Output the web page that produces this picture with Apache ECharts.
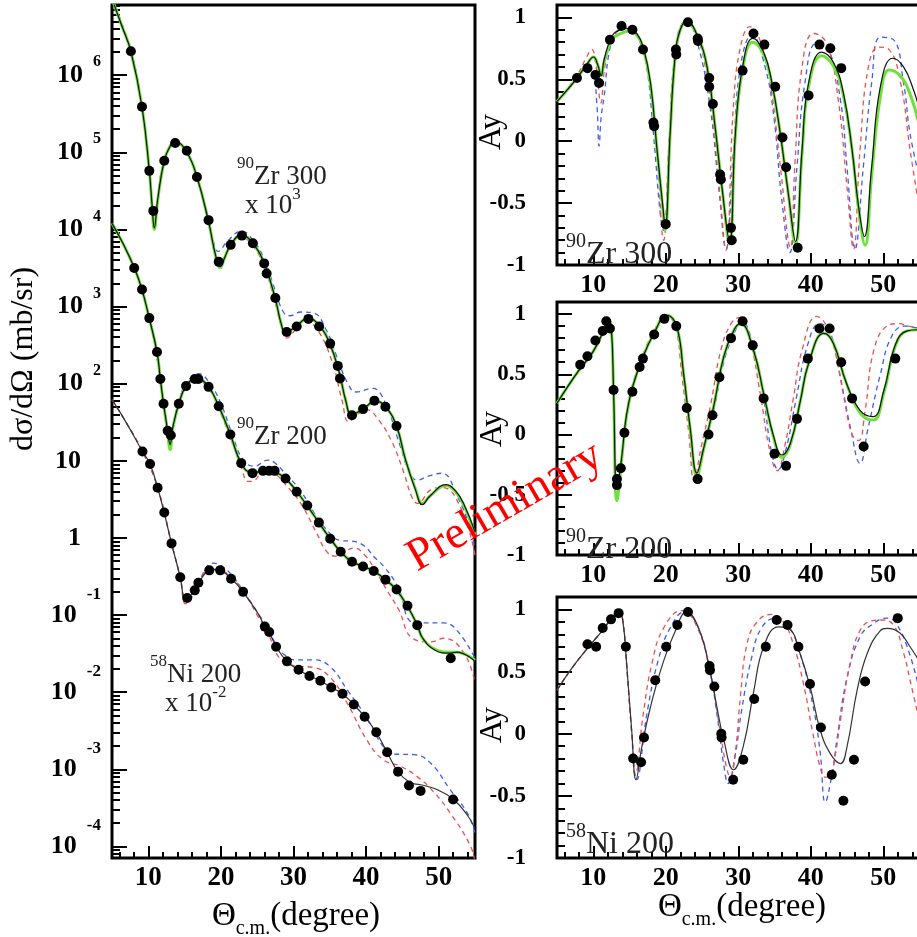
<!DOCTYPE html>
<html><head><meta charset="utf-8">
<script src="https://cdn.jsdelivr.net/npm/echarts@6/dist/echarts.min.js"></script>
<style>html,body{margin:0;padding:0;background:#fff}#c{width:917px;height:937px}</style>
</head><body><div id="c"></div>
<script>
// ---------- tick labels ----------
const xMajor = [10, 20, 30, 40, 50];
const xMinor = [6, 8, 12, 14, 16, 18, 22, 24, 26, 28, 32, 34, 36, 38, 42, 44, 46, 48, 52, 54];
const yMajorL = [-4, -3, -2, -1, 0, 1, 2, 3, 4, 5, 6]; // log10 exponents
const ayMajor = [-1, -0.5, 0, 0.5, 1];
const ayMinor = [-0.9, -0.8, -0.7, -0.6, -0.4, -0.3, -0.2, -0.1, 0.1, 0.2, 0.3, 0.4, 0.6, 0.7, 0.8, 0.9];

// ---------- cross sections (mb/sr), [theta, value] ----------
const zr300Pts = [[7.6,2.04e6],[9.13,3.89e5],[10.14,5.75e4],[10.69,1.74e4],[12.2,7.76e4],[13.7,1.32e5],[15.3,1.05e5],[16.7,4.79e4],[18.3,1.32e4],[19.7,3.8e3],[21.35,6.31e3],[22.9,8.32e3],[24.4,6.61e3],[25.96,3.63e3],[26.3,2.69e3],[27.5,1.29e3],[29.06,468],[30.44,550],[32.05,692],[33.53,550],[35.05,331],[36.1,170],[36.4,117],[38.06,38.9],[39.58,46.8],[41.14,60.3],[42.66,50.1],[44.19,28.2]];
const zr300Black = [[5,9.8e6],[6.3,4.5e6],[7.6,2.04e6],[9.13,3.9e5],[10.14,5.8e4],[10.5,2.2e4],[10.83,1.05e4],[11.3,2.5e4],[12.2,7.8e4],[13.0,1.2e5],[13.7,1.38e5],[15.3,1.0e5],[16.7,4.8e4],[18.3,1.26e4],[19.3,4.5e3],[19.9,3.3e3],[20.6,4.5e3],[21.35,6.3e3],[22.8,8.5e3],[24.4,6.6e3],[26.0,3.55e3],[27.5,1.26e3],[28.3,600],[28.9,460],[30.4,560],[32.0,710],[33.5,575],[35.0,330],[36.3,140],[37.2,60],[38.0,40],[39.6,47],[41.3,60],[42.7,50],[44.2,28],[45.4,10.5],[46.8,4.2],[47.75,2.7],[48.8,3.5],[51.0,4.9],[52.3,4.1],[53.5,2.7],[55,1.2]];
const zr300Green = [[5,9.8e6],[6.3,4.5e6],[7.6,2.04e6],[9.13,3.9e5],[10.14,5.8e4],[10.5,2.1e4],[10.83,1.0e4],[11.3,2.4e4],[12.2,7.8e4],[13.0,1.2e5],[13.7,1.36e5],[15.3,1.0e5],[16.7,4.8e4],[18.3,1.26e4],[19.3,4.4e3],[19.9,3.2e3],[20.6,4.5e3],[21.35,6.3e3],[22.8,8.4e3],[24.4,6.6e3],[26.0,3.55e3],[27.5,1.26e3],[28.3,600],[28.9,455],[30.4,560],[32.0,700],[33.5,575],[35.0,330],[36.3,140],[37.2,60],[38.0,40],[39.6,47],[41.3,59],[42.7,50],[44.2,28],[45.4,10.5],[46.8,4.3],[47.75,2.8],[48.8,3.5],[51.0,4.8],[52.3,4.0],[53.5,2.6],[55,1.1]];
const zr300Blue = [[5,9.8e6],[7.6,2.04e6],[9.13,3.9e5],[10.14,5.8e4],[10.5,2.3e4],[10.83,1.1e4],[11.3,2.6e4],[12.2,7.8e4],[13.7,1.38e5],[15.3,1.02e5],[16.7,4.9e4],[18.3,1.35e4],[19.0,6.8e3],[19.6,5.2e3],[21.0,7.2e3],[22.8,9.5e3],[24.5,7.1e3],[26.0,4.0e3],[27.6,1.5e3],[28.6,850],[29.5,760],[31.0,850],[32.7,830],[34.5,500],[36.0,220],[37.5,100],[38.6,78],[40.9,87],[42.5,60],[44.7,15.5],[46.0,7.0],[47.05,5.6],[48.5,6.3],[50.4,6.9],[52.6,3.4],[54.4,1.26],[55,0.71]];
const zr300Red = [[5,9.8e6],[7.6,2.04e6],[9.13,3.9e5],[10.14,5.8e4],[10.5,2.2e4],[10.83,1.0e4],[11.3,2.5e4],[12.2,7.8e4],[13.7,1.38e5],[15.3,1.0e5],[16.7,4.7e4],[18.3,1.2e4],[19.3,4.2e3],[19.9,3.1e3],[20.6,4.3e3],[21.35,6.0e3],[22.6,8.1e3],[24.3,6.3e3],[26.0,3.2e3],[27.5,1.1e3],[28.4,520],[29.06,390],[30.3,500],[31.6,650],[33.3,500],[35.3,195],[36.7,60],[37.6,32],[38.8,40],[40.1,46],[41.7,34],[43.5,18],[45.2,7],[46.3,3.4],[47.1,2.8],[48.9,4.2],[50.5,4.5],[53.0,2.5],[55,0.6]];

const zr200Pts = [[8.06,3.16e3],[9.13,1.66e3],[10.14,708],[11.2,257],[11.66,115],[12.1,55],[12.67,24.5],[13.1,21.4],[14.2,55],[15.2,93],[16.4,115],[16.9,115],[18.3,91],[19.7,51],[21.3,21.9],[22.8,9.33],[24.35,6.92],[25.8,7.41],[26.65,7.41],[27.4,7.41],[28.9,5.89],[30.44,3.98],[31.9,2.63],[33.5,1.58],[35.05,0.977],[36.5,0.661],[38.06,0.49],[39.58,0.427],[41.05,0.372],[42.67,0.288],[44.2,0.214],[45.7,0.132],[47.05,0.074],[51.66,0.0275]];
const zr200Black = [[5,1.2e4],[6.5,6.6e3],[8.06,3.2e3],[9.13,1.66e3],[10.14,700],[11.2,257],[11.66,115],[12.1,55],[12.67,24.5],[13.0,16.2],[13.4,28],[14.2,55],[15.2,93],[16.6,117],[18.3,91],[19.7,51],[21.3,22],[22.8,9.3],[24.3,7.0],[25.8,7.4],[26.9,7.6],[27.7,7.0],[28.9,5.9],[30.44,4.0],[31.9,2.6],[33.5,1.58],[35.05,0.98],[36.5,0.66],[38.06,0.49],[39.58,0.43],[41.05,0.37],[42.67,0.29],[44.2,0.21],[45.7,0.13],[47.05,0.074],[47.8,0.05],[49.5,0.035],[51.5,0.032],[52.5,0.033],[55,0.025]];
const zr200Green = [[5,1.2e4],[6.5,6.6e3],[8.06,3.2e3],[9.13,1.66e3],[10.14,700],[11.2,257],[11.66,115],[12.1,55],[12.67,23],[13.0,14],[13.4,27],[14.2,55],[15.2,93],[16.6,117],[18.3,91],[19.7,51],[21.3,22],[22.8,9.3],[24.3,7.0],[25.8,7.4],[26.9,7.6],[27.7,7.0],[28.9,5.9],[30.44,4.0],[31.9,2.6],[33.5,1.58],[35.05,0.98],[36.5,0.66],[38.06,0.49],[39.58,0.43],[41.05,0.37],[42.67,0.29],[44.2,0.21],[45.7,0.13],[47.05,0.074],[47.8,0.05],[49.5,0.036],[51.5,0.033],[52.5,0.033],[55,0.026]];
const zr200Blue = [[5,1.2e4],[8.06,3.2e3],[10.14,700],[11.66,115],[12.67,25],[13.0,17],[13.4,29],[14.2,58],[15.2,100],[16.9,135],[18.5,100],[20.0,55],[21.5,23],[23.0,10.5],[24.6,8.5],[26.5,10.2],[27.5,9.3],[29.0,6.6],[30.9,4.2],[33.0,2.0],[35.0,1.15],[36.4,0.93],[38.3,0.9],[39.8,0.78],[41.0,0.58],[42.4,0.43],[44.2,0.25],[45.0,0.16],[45.8,0.089],[47.0,0.079],[50.7,0.079],[52.6,0.062],[55,0.0275]];
const zr200Red = [[5,1.2e4],[8.06,3.2e3],[10.14,700],[11.66,115],[12.67,23],[13.0,15.5],[13.4,27],[14.2,53],[15.2,90],[16.5,112],[18.3,86],[19.7,47],[21.3,20],[22.8,8.3],[23.75,5.4],[24.5,5.5],[26.0,7.6],[27.3,7.0],[29.0,4.8],[31.0,2.8],[33.2,1.15],[34.5,0.68],[35.7,0.58],[37.0,0.66],[38.3,0.74],[39.8,0.6],[41.5,0.35],[43.0,0.2],[44.5,0.117],[46.4,0.05],[48.9,0.045],[50.7,0.05],[53.5,0.032],[55,0.013]];

const niPts = [[9.2,13.2],[10.24,9.1],[11.28,4.47],[12.2,2.14],[13.2,0.85],[14.4,0.31],[15.36,0.166],[16.4,0.209],[16.9,0.263],[18.4,0.38],[19.9,0.38],[21.4,0.295],[23.05,0.2],[26.05,0.0708],[26.65,0.0603],[27.6,0.0389],[29.1,0.0251],[30.7,0.0195],[32.2,0.0162],[33.7,0.0141],[35.2,0.0115],[36.75,0.00955],[38.3,0.00692],[39.8,0.00479],[41.4,0.00302],[42.9,0.00166],[44.4,0.000933],[45.9,0.000617],[47.5,0.000525],[51.98,0.000407]];
const niBlack = [[5,62],[6.9,32],[9.2,13.2],[10.24,9.1],[11.28,4.5],[12.2,2.1],[13.2,0.85],[14.4,0.31],[15.1,0.16],[15.6,0.17],[16.4,0.21],[16.9,0.26],[18.4,0.38],[19.2,0.39],[19.9,0.38],[21.4,0.3],[23.05,0.2],[25.1,0.105],[26.05,0.071],[26.65,0.06],[27.6,0.039],[29.1,0.025],[30.7,0.0195],[32.2,0.0162],[33.7,0.0141],[35.2,0.0115],[36.75,0.0095],[38.3,0.0069],[39.8,0.0048],[41.4,0.003],[42.9,0.00166],[44.4,0.00093],[46.0,0.00068],[47.5,0.00063],[49.5,0.00056],[52.0,0.00041],[54.0,0.00025],[55,0.00017]];
const niBlue = [[5,62],[6.9,32],[9.2,13.2],[11.28,4.5],[13.2,0.85],[14.4,0.31],[15.1,0.16],[15.6,0.17],[16.9,0.27],[18.9,0.47],[20.0,0.44],[21.5,0.33],[23.0,0.21],[25.0,0.11],[26.5,0.065],[28.0,0.036],[29.3,0.028],[30.0,0.0263],[32.7,0.0263],[35.05,0.0214],[37.4,0.0107],[40.0,0.0048],[42.4,0.00195],[43.8,0.00158],[46.6,0.00155],[48.9,0.0012],[51.6,0.00054],[53.95,0.00027],[55,0.000148]];
const niRed = [[5,62],[6.9,32],[9.2,13.2],[11.28,4.5],[13.2,0.85],[14.4,0.3],[15.1,0.14],[15.6,0.15],[16.4,0.2],[17.5,0.33],[19.0,0.42],[21.4,0.31],[23.0,0.21],[25.0,0.1],[26.5,0.058],[28.1,0.0275],[30.3,0.0219],[32.8,0.0209],[35.0,0.0158],[37.4,0.0072],[40.1,0.0024],[42.4,0.00132],[44.7,0.0011],[47.0,0.00081],[49.3,0.00051],[51.6,0.00027],[54.4,0.0001],[55,0.00006]];

// ---------- analysing powers, [theta, Ay] ----------
const ay300Pts = [[7.75,0.51],[9.2,0.59],[10.3,0.535],[10.8,0.47],[12.3,0.82],[13.9,0.93],[15.4,0.9],[16.86,0.74],[18.3,0.15],[18.4,0.12],[20.0,-0.67],[21.4,0.74],[21.45,0.7],[23.06,0.96],[24.4,0.83],[24.45,0.81],[26.0,0.51],[26.0,0.44],[26.5,0.3],[27.5,-0.27],[27.6,-0.31],[29.0,-0.7],[29.1,-0.8],[30.6,0.57],[32.1,0.87],[33.6,0.78],[35.1,0.44],[36.1,0.03],[36.6,-0.21],[38.2,-0.86],[39.7,0.37],[41.2,0.78],[42.7,0.75],[44.2,0.59]];
const ay300Black = [[5,0.32],[6.5,0.42],[7.75,0.51],[9.0,0.61],[10.05,0.68],[10.6,0.62],[11.1,0.53],[11.5,0.66],[12.6,0.85],[13.8,0.9],[15.0,0.91],[16.0,0.87],[16.9,0.76],[17.9,0.47],[18.8,-0.07],[19.6,-0.53],[19.93,-0.69],[20.6,0.06],[21.3,0.69],[22.0,0.9],[22.9,0.97],[24.3,0.86],[25.7,0.6],[26.8,0.12],[27.75,-0.37],[28.8,-0.81],[29.6,0.06],[30.6,0.6],[32.0,0.83],[33.5,0.72],[34.65,0.47],[35.8,0.06],[36.9,-0.42],[37.9,-0.81],[38.8,-0.07],[39.7,0.47],[41.5,0.72],[43.1,0.64],[44.5,0.39],[45.7,-0.07],[46.6,-0.53],[47.4,-0.77],[48.4,-0.21],[49.6,0.44],[51.3,0.67],[52.8,0.6],[54.2,0.41],[55,0.25]];
const ay300Green = [[5,0.32],[6.5,0.42],[7.75,0.51],[9.0,0.61],[10.05,0.68],[10.6,0.62],[11.1,0.53],[11.5,0.64],[12.6,0.82],[13.8,0.87],[15.0,0.89],[16.0,0.86],[16.9,0.75],[17.9,0.46],[18.8,-0.07],[19.6,-0.55],[19.93,-0.72],[20.6,0.05],[21.3,0.68],[22.0,0.9],[22.9,0.96],[24.3,0.86],[25.7,0.6],[26.8,0.12],[27.75,-0.37],[28.8,-0.83],[29.6,0.04],[30.6,0.58],[32.0,0.8],[33.5,0.7],[34.65,0.46],[35.8,0.06],[36.9,-0.42],[37.9,-0.83],[38.8,-0.1],[39.7,0.44],[41.5,0.69],[43.1,0.61],[44.5,0.37],[45.7,-0.07],[46.6,-0.55],[47.5,-0.84],[48.4,-0.28],[49.6,0.36],[50.8,0.575],[52.3,0.53],[53.7,0.38],[55,0.12]];
const ay300Blue = [[5,0.32],[7.75,0.5],[9.3,0.6],[10.0,0.55],[10.5,0.3],[10.8,-0.04],[11.1,0.2],[11.5,0.36],[12.3,0.75],[13.4,0.9],[14.65,0.93],[16.0,0.85],[17.2,0.66],[18.3,0.06],[19.25,-0.59],[19.7,-0.72],[20.6,0.11],[21.7,0.87],[22.9,0.97],[24.3,0.81],[26.1,0.28],[27.3,-0.37],[28.3,-0.87],[29.35,-0.07],[30.3,0.6],[31.9,0.86],[33.7,0.6],[34.9,0.2],[36.0,-0.47],[37.1,-0.9],[38.1,-0.21],[39.2,0.47],[40.8,0.79],[42.4,0.75],[44.1,0.33],[45.0,-0.21],[46.1,-0.87],[47.25,-0.21],[48.4,0.47],[49.6,0.84],[51.4,0.82],[52.8,0.47],[53.7,0.06],[55,-0.3]];
const ay300Red = [[5,0.32],[7.75,0.53],[9.0,0.67],[9.8,0.74],[10.4,0.6],[11.05,0.31],[11.6,0.6],[12.6,0.82],[14.5,0.92],[16.0,0.86],[16.9,0.75],[17.9,0.45],[18.8,-0.1],[19.7,-0.8],[20.5,0.05],[21.3,0.7],[22.8,0.97],[24.3,0.85],[25.6,0.55],[26.7,0.05],[27.5,-0.45],[28.3,-0.88],[29.35,0.3],[30.3,0.76],[31.6,0.925],[33.5,0.73],[34.6,0.4],[35.8,-0.2],[37.2,-0.86],[37.8,-0.2],[38.8,0.6],[40.4,0.87],[42.2,0.79],[43.8,0.33],[45.0,-0.37],[45.9,-0.87],[46.8,-0.07],[47.95,0.6],[49.4,0.76],[50.8,0.74],[52.4,0.47],[53.7,-0.07],[55,-0.55]];

const ay200Pts = [[8.2,0.58],[9.2,0.65],[10.3,0.78],[11.3,0.86],[11.8,0.94],[12.3,0.88],[12.8,0.37],[13.27,-0.37],[13.27,-0.42],[13.8,-0.28],[14.3,0.015],[15.4,0.355],[16.4,0.56],[16.85,0.63],[18.4,0.83],[19.8,0.96],[21.45,0.9],[22.9,0.22],[24.4,-0.37],[25.9,0.0],[26.45,0.16],[27.4,0.475],[29.0,0.8],[30.6,0.94],[32.0,0.74],[33.5,0.3],[35.0,-0.16],[36.6,-0.26],[38.1,0.13],[39.6,0.63],[41.2,0.88],[42.6,0.88],[44.2,0.6],[45.7,0.3],[47.3,-0.1],[51.66,0.63]];
const ay200Black = [[5,0.26],[6.5,0.4],[8,0.53],[10,0.69],[11.5,0.87],[12.1,0.95],[12.5,0.88],[12.8,0.37],[13.27,-0.45],[13.9,-0.2],[14.6,0.17],[15.5,0.41],[16.9,0.65],[18.3,0.83],[20.16,0.99],[21.5,0.9],[22.45,0.51],[23.4,0.04],[24.3,-0.32],[25.2,-0.12],[26.6,0.23],[28.0,0.646],[29.35,0.86],[30.3,0.923],[32.1,0.7],[33.5,0.34],[34.9,-0.02],[36.0,-0.17],[37.2,-0.07],[38.6,0.29],[39.7,0.59],[41.8,0.84],[43.1,0.76],[44.9,0.43],[46.8,0.2],[48.6,0.148],[50.1,0.37],[51.7,0.75],[53.3,0.86],[55,0.87]];
const ay200Green = [[5,0.26],[6.5,0.4],[8,0.53],[10,0.69],[11.5,0.87],[12.1,0.95],[12.5,0.88],[12.8,0.35],[13.27,-0.55],[13.9,-0.22],[14.6,0.16],[15.5,0.41],[16.9,0.65],[18.3,0.83],[20.16,0.99],[21.5,0.9],[22.45,0.51],[23.4,0.03],[24.3,-0.34],[25.2,-0.13],[26.6,0.23],[28.0,0.646],[29.35,0.86],[30.3,0.92],[32.1,0.7],[33.5,0.34],[34.9,-0.03],[36.0,-0.19],[37.2,-0.08],[38.6,0.29],[39.7,0.59],[41.8,0.84],[43.1,0.76],[44.9,0.43],[46.8,0.18],[48.6,0.12],[50.1,0.35],[51.7,0.74],[53.3,0.86],[55,0.87]];
const ay200Blue = [[5,0.26],[8,0.53],[10,0.69],[11.5,0.87],[12.1,0.95],[12.5,0.88],[12.8,0.37],[13.27,-0.45],[13.9,-0.2],[14.6,0.17],[15.5,0.42],[16.9,0.66],[18.3,0.84],[20.16,0.99],[21.5,0.9],[22.45,0.5],[23.4,0.0],[24.3,-0.33],[25.2,-0.1],[26.6,0.2],[28.0,0.6],[29.5,0.85],[30.5,0.94],[32.1,0.72],[33.5,0.3],[34.6,-0.15],[35.5,-0.29],[36.6,-0.12],[38.0,0.3],[39.6,0.75],[41.2,0.92],[42.6,0.86],[44.0,0.5],[45.5,0.05],[46.8,-0.24],[47.9,0.05],[49.6,0.5],[51.2,0.82],[53.0,0.9],[55,0.88]];
const ay200Red = [[5,0.26],[8,0.53],[10,0.69],[11.5,0.87],[12.1,0.95],[12.5,0.88],[12.8,0.37],[13.27,-0.45],[13.9,-0.2],[14.6,0.18],[15.5,0.43],[16.9,0.67],[18.3,0.85],[20.0,0.99],[21.3,0.9],[22.2,0.5],[23.2,0.0],[23.9,-0.38],[24.9,-0.1],[26.2,0.25],[27.6,0.7],[29.0,0.92],[30.1,0.97],[31.6,0.78],[33.0,0.35],[34.4,-0.15],[35.4,-0.3],[36.4,-0.1],[37.6,0.3],[38.8,0.7],[40.8,0.98],[42.2,0.9],[43.5,0.65],[44.6,0.3],[45.7,0.0],[46.6,-0.05],[47.5,0.2],[48.7,0.7],[50.5,0.9],[52.1,0.92],[53.5,0.9],[55,0.88]];

const ayNiPts = [[9.2,0.72],[10.4,0.7],[11.3,0.85],[12.45,0.92],[13.5,0.97],[14.5,0.7],[15.5,-0.2],[16.6,-0.23],[17.0,-0.03],[18.55,0.43],[20.07,0.7],[21.6,0.875],[23.06,0.98],[26.04,0.545],[26.1,0.51],[26.7,0.38],[27.66,0.0],[27.7,-0.03],[29.3,-0.37],[30.7,-0.21],[32.2,0.28],[33.8,0.7],[35.3,0.915],[36.8,0.875],[38.3,0.7],[39.9,0.4],[41.4,0.05],[42.9,-0.33],[44.5,-0.54],[45.96,-0.21],[47.5,0.42],[52.0,0.93]];
const ayNiBlack = [[5,0.35],[6.83,0.51],[9.1,0.68],[11.4,0.84],[12.7,0.94],[13.6,0.98],[14.1,0.9],[14.6,0.566],[15.3,0.03],[15.9,-0.37],[16.7,-0.105],[17.9,0.217],[19.6,0.566],[21.2,0.81],[22.9,0.98],[24.6,0.84],[26.1,0.51],[27.05,0.217],[28.0,-0.05],[29.35,-0.29],[30.7,-0.1],[32.1,0.33],[33.5,0.7],[35.55,0.86],[37.1,0.84],[38.5,0.65],[39.9,0.38],[41.3,0.03],[42.7,-0.16],[44.1,-0.24],[45.0,-0.105],[46.4,0.35],[47.8,0.647],[49.6,0.83],[50.5,0.847],[52.3,0.81],[53.7,0.7],[55,0.58]];
const ayNiBlue = [[5,0.35],[6.83,0.51],[9.1,0.68],[11.4,0.84],[12.7,0.94],[13.6,0.98],[14.1,0.9],[14.6,0.56],[15.3,0.02],[16.0,-0.37],[17.4,0.16],[19.0,0.6],[20.6,0.85],[22.6,0.98],[24.5,0.85],[26.1,0.5],[27.2,0.1],[28.0,-0.25],[28.6,-0.4],[29.5,-0.2],[30.5,0.2],[31.8,0.6],[33.2,0.85],[35.2,0.93],[36.8,0.88],[38.5,0.65],[40.3,0.23],[41.3,-0.15],[42.0,-0.55],[43.0,-0.3],[43.6,-0.05],[45.0,0.45],[46.8,0.78],[48.5,0.88],[50.5,0.93],[51.6,0.9],[53.3,0.7],[55,0.35]];
const ayNiRed = [[5,0.35],[6.83,0.51],[9.1,0.68],[11.4,0.84],[12.7,0.94],[13.6,0.98],[14.1,0.9],[14.6,0.55],[15.3,0.0],[15.8,-0.33],[16.9,0.16],[18.1,0.566],[19.7,0.85],[22.2,0.99],[24.3,0.86],[26.1,0.5],[27.3,0.1],[28.3,-0.25],[28.9,-0.35],[29.6,-0.15],[30.3,0.3],[31.2,0.72],[32.6,0.9],[34.6,0.96],[36.2,0.9],[37.6,0.72],[39.0,0.4],[40.3,0.0],[41.3,-0.27],[42.0,-0.35],[42.7,-0.34],[43.3,-0.2],[44.1,0.11],[45.45,0.57],[46.8,0.83],[48.5,0.91],[49.6,0.915],[51.4,0.875],[52.8,0.65],[53.7,0.43],[55,0.1]];

// ---------- chart ----------
const F = "'Liberation Serif', 'Times New Roman', serif";
const BLACK = '#111', GREEN = '#6ee03a', BLUE = '#3d5cf0', RED = '#ea5050';
const toLog = arr => arr.map(p => [p[0], Math.log10(p[1])]);

const yMinorL = [];
for (let n = -5; n <= 6; n++) for (let k = 2; k <= 9; k++) {
  const v = n + Math.log10(k);
  if (v > -4.15 && v < 6.91) yMinorL.push(v);
}

const grids = [
  {left: 112, top: 5, width: 363, height: 853},
  {left: 557, top: 5, width: 362.5, height: 260},
  {left: 557, top: 302, width: 362.5, height: 253},
  {left: 557, top: 597, width: 362.5, height: 261}
].map(g => Object.assign({show: true, borderColor: '#000', borderWidth: 3, backgroundColor: 'transparent', containLabel: false, outerBoundsMode: 'none'}, g));

const tickStyle = {color: '#000', width: 2};
const noLine = {show: false, onZero: false};
const xAxes = [], yAxes = [];
grids.forEach((g, i) => {
  xAxes.push({gridIndex: i, type: 'value', min: 5, max: 55, position: 'bottom',
    axisLine: noLine, splitLine: {show: false},
    axisTick: {inside: true, length: 12, customValues: xMajor, lineStyle: tickStyle},
    axisLabel: {customValues: xMajor, fontFamily: F, fontWeight: 'bold', fontSize: i === 0 ? 27 : 26, color: '#000', margin: 7}});
  xAxes.push({gridIndex: i, type: 'value', min: 5, max: 55, position: 'bottom',
    axisLine: noLine, splitLine: {show: false}, axisLabel: {show: false},
    axisTick: {inside: true, length: 6, customValues: xMinor, lineStyle: tickStyle}});
  if (i === 0) {
    yAxes.push({gridIndex: 0, type: 'value', min: -4.15, max: 6.91, position: 'left',
      axisLine: noLine, splitLine: {show: false},
      axisTick: {inside: true, length: 15, customValues: yMajorL, lineStyle: tickStyle},
      axisLabel: {customValues: yMajorL, margin: 11, color: '#000',
        formatter: function (v) {
          const n = Math.round(v);
          if (n === 0) return '{m|1}{p| }';
          if (n === 1) return '{m|10}{p| }';
          if (n > 1) return '{m|10}{e|' + n + '}';
          return '{mn|10}{en|' + n + '}';
        },
        rich: {
          m: {fontSize: 26, fontWeight: 'bold', fontFamily: F, color: '#000', lineHeight: 42, verticalAlign: 'middle'},
          mn: {fontSize: 26, fontWeight: 'bold', fontFamily: F, color: '#000', lineHeight: 58, verticalAlign: 'middle'},
          e: {fontSize: 16, fontWeight: 'bold', fontFamily: F, color: '#000', lineHeight: 16, verticalAlign: 'top', padding: [0, 0, 0, 10]},
          en: {fontSize: 17, fontWeight: 'bold', fontFamily: F, color: '#000', lineHeight: 17, verticalAlign: 'top', padding: [0, 0, 0, 10]},
          p: {width: 20}
        }}});
    yAxes.push({gridIndex: 0, type: 'value', min: -4.15, max: 6.91, position: 'left',
      axisLine: noLine, splitLine: {show: false}, axisLabel: {show: false},
      axisTick: {inside: true, length: 8, customValues: yMinorL, lineStyle: tickStyle}});
  } else {
    yAxes.push({gridIndex: i, type: 'value', min: -1, max: 1.1, position: 'left',
      axisLine: noLine, splitLine: {show: false},
      axisTick: {inside: true, length: 15, customValues: ayMajor, lineStyle: tickStyle},
      axisLabel: {customValues: ayMajor, margin: 31, fontFamily: F, fontWeight: 'bold', fontSize: 23, color: '#000',
        formatter: v => String(v)}});
    yAxes.push({gridIndex: i, type: 'value', min: -1, max: 1.1, position: 'left',
      axisLine: noLine, splitLine: {show: false}, axisLabel: {show: false},
      axisTick: {inside: true, length: 8, customValues: ayMinor, lineStyle: tickStyle}});
  }
});

function line(data, g, color, width, dashed, z) {
  return {type: 'line', xAxisIndex: 2 * g, yAxisIndex: 2 * g, data: data, smooth: 0.45,
    showSymbol: false, symbol: 'none', silent: true, z: z, clip: true,
    lineStyle: {color: color, width: width, type: dashed ? [5, 4] : 'solid'}};
}
function pts(data, g) {
  return {type: 'scatter', xAxisIndex: 2 * g, yAxisIndex: 2 * g, data: data, symbol: 'circle', symbolSize: 10,
    itemStyle: {color: '#000', opacity: 1}, z: 10, silent: true};
}

const series = [
  line(toLog(zr300Blue), 0, BLUE, 1.3, true, 2), line(toLog(zr300Red), 0, RED, 1.3, true, 2),
  line(toLog(zr300Green), 0, GREEN, 3, false, 3), line(toLog(zr300Black), 0, BLACK, 1.2, false, 4), pts(toLog(zr300Pts), 0),
  line(toLog(zr200Blue), 0, BLUE, 1.3, true, 2), line(toLog(zr200Red), 0, RED, 1.3, true, 2),
  line(toLog(zr200Green), 0, GREEN, 3, false, 3), line(toLog(zr200Black), 0, BLACK, 1.2, false, 4), pts(toLog(zr200Pts), 0),
  line(toLog(niBlue), 0, BLUE, 1.3, true, 2), line(toLog(niRed), 0, RED, 1.3, true, 2),
  line(toLog(niBlack), 0, '#333', 1.2, false, 4), pts(toLog(niPts), 0),

  line(ay300Blue, 1, BLUE, 1.3, true, 2), line(ay300Red, 1, RED, 1.3, true, 2),
  line(ay300Green, 1, GREEN, 3, false, 3), line(ay300Black, 1, BLACK, 1.2, false, 4), pts(ay300Pts, 1),
  line(ay200Blue, 2, BLUE, 1.3, true, 2), line(ay200Red, 2, RED, 1.3, true, 2),
  line(ay200Green, 2, GREEN, 3, false, 3), line(ay200Black, 2, BLACK, 1.2, false, 4), pts(ay200Pts, 2),
  line(ayNiBlue, 3, BLUE, 1.3, true, 2), line(ayNiRed, 3, RED, 1.3, true, 2),
  line(ayNiBlack, 3, '#333', 1.2, false, 4), pts(ayNiPts, 3)
];

const TXT = '#222';
function supLabel(x, y, sup, main, big, small, raise) {
  return {type: 'text', x: x, y: y, z: 50, style: {
    text: '{s|' + sup + '}{b|' + main + '}', textAlign: 'left', textVerticalAlign: 'middle',
    rich: {
      b: {fontSize: big, fontFamily: F, fill: TXT, lineHeight: raise, verticalAlign: 'middle'},
      s: {fontSize: small, fontFamily: F, fill: TXT, lineHeight: small, verticalAlign: 'top'}
    }}};
}
function expLabel(x, y, main, sup, big, small, raise) {
  return {type: 'text', x: x, y: y, z: 50, style: {
    text: '{b|' + main + '}{s|' + sup + '}', textAlign: 'left', textVerticalAlign: 'middle',
    rich: {
      b: {fontSize: big, fontFamily: F, fill: TXT, lineHeight: raise, verticalAlign: 'middle'},
      s: {fontSize: small, fontFamily: F, fill: TXT, lineHeight: small, verticalAlign: 'top'}
    }}};
}
function thetaTitle(x, y) {
  return {type: 'text', x: x, y: y, z: 50, style: {
    text: '{t|Θ}{s|c.m.}{t|(degree)}', textAlign: 'center', textVerticalAlign: 'middle',
    rich: {
      t: {fontSize: 33, fontFamily: F, fill: '#000', lineHeight: 46, verticalAlign: 'middle'},
      s: {fontSize: 20, fontFamily: F, fill: '#000', lineHeight: 20, verticalAlign: 'bottom'}
    }}};
}
function rotText(x, y, text, size) {
  return {type: 'text', x: x, y: y, rotation: Math.PI / 2, z: 50, style: {
    text: text, font: size + 'px ' + F, fill: '#000', textAlign: 'center', textVerticalAlign: 'middle'}};
}

const graphic = [
  rotText(24, 359, 'dσ/dΩ (mb/sr)', 32),
  thetaTitle(296, 916),
  thetaTitle(742, 907),
  rotText(492, 132, 'Ay', 32),
  rotText(493, 429, 'Ay', 32),
  rotText(493, 725, 'Ay', 32),
  supLabel(237, 177, '90', 'Zr 300', 27, 17, 44),
  expLabel(245, 206, 'x 10', '3', 27, 17, 40),
  supLabel(237, 437, '90', 'Zr 200', 27, 17, 44),
  supLabel(150, 675, '58', 'Ni 200', 27, 17, 44),
  expLabel(165, 704, 'x 10', '-2', 27, 17, 40),
  supLabel(566, 255, '90', 'Zr 300', 32, 20, 46),
  supLabel(566, 550, '90', 'Zr 200', 32, 20, 46),
  supLabel(566, 845, '58', 'Ni 200', 32, 20, 46),
  {type: 'text', x: 505, y: 507, rotation: Math.PI / 6, z: 100, style: {
    text: 'Preliminary', font: '46px ' + F, fill: '#ff0000', textAlign: 'center', textVerticalAlign: 'middle'}}
];

const chart = echarts.init(document.getElementById('c'), null, {renderer: 'canvas'});
chart.setOption({
  animation: false,
  backgroundColor: '#fff',
  grid: grids,
  xAxis: xAxes,
  yAxis: yAxes,
  series: series,
  graphic: graphic
});
</script></body></html>
